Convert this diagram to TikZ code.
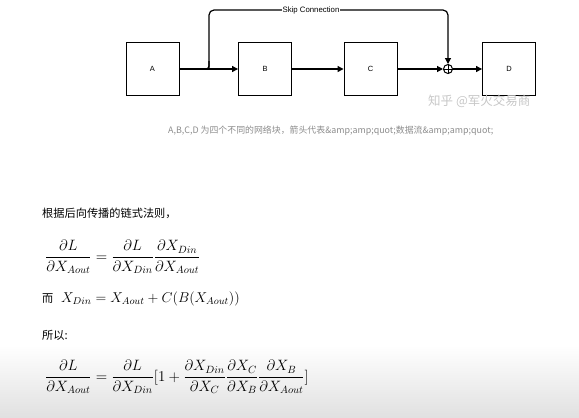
\RequirePackage{fix-cm}
\documentclass[tikz,border=0pt]{standalone}
\usepackage{amsmath}
\usepackage{fontspec}
\newfontfamily\cjk{Noto Sans CJK SC}
\newfontfamily\arial{Liberation Sans}
\usetikzlibrary{arrows.meta}
\begin{document}
\begin{tikzpicture}[x=1pt,y=-1pt,
  blk/.style={draw=black,line width=0.9pt,minimum width=53pt,minimum height=53pt,inner sep=0pt,font=\arial\fontsize{7.5}{8}\selectfont},
  flow/.style={line width=1.2pt,-{Triangle[length=6pt,width=6pt]}},
  txt/.style={anchor=west,inner sep=0pt},
  eq/.style={txt,font=\fontsize{15}{18}\selectfont}]
\useasboundingbox (0,0) rectangle (579,418);
\shade[top color=white,bottom color=black!12] (0,345) rectangle (579,418);
% blocks
\node[blk] (A) at (152.5,69) {A};
\node[blk] (B) at (265,69) {B};
\node[blk] (C) at (370.5,69) {C};
\node[blk] (D) at (509,69) {D};
\node[draw=black,line width=1pt,circle,minimum size=9pt,inner sep=0pt] (P) at (448,69) {};
\draw[line width=0.9pt] (P.north) -- (P.south) (P.west) -- (P.east);
\coordinate (s1) at (209,69);
\coordinate (s2) at (212,10);
\coordinate (s3) at (448,10);
% flows
\draw[flow] (A.east) -- (B.west);
\draw[flow] (B.east) -- (C.west);
\draw[flow] (C.east) -- (P.west);
\draw[flow] (P.east) -- (D.west);
\draw[flow,rounded corners=5pt] (s1) -- (s1 |- s2) -- (s3) -- (P.north);
\draw[line width=1.2pt,rounded corners=3pt] (A.east) -- (s1) -- ++(0,-8);
\node[fill=white,inner sep=0.5pt,font=\arial\fontsize{7.8}{8}\selectfont] (skip) at (311,10) {Skip Connection};
% watermark
\node[txt,text=black!22,font=\cjk\fontsize{12.5}{13}\selectfont] (wm) at (428,101) {知乎 @军火交易商};
% caption
\node[txt,text=black!45,font=\cjk\fontsize{8.9}{10}\selectfont] (cap) at (168,131) {A,B,C,D 为四个不同的网络块，箭头代表\&amp;amp;quot;数据流\&amp;amp;quot;};
% body text
\node[txt,font=\cjk\fontsize{11.2}{13}\selectfont] (t1) at (42,213) {根据后向传播的链式法则，};
\node[eq] (e1) at (45,257) {$\dfrac{\partial L}{\partial X_{Aout}} = \dfrac{\partial L}{\partial X_{Din}}\dfrac{\partial X_{Din}}{\partial X_{Aout}}$};
\node[txt,font=\cjk\fontsize{11.2}{13}\selectfont] (t3) at (42,299) {而};
\node[eq,font=\fontsize{14.2}{17}\selectfont] (e2) at (61,299) {$X_{Din} = X_{Aout} + C(B(X_{Aout}))$};
\node[txt,font=\cjk\fontsize{11.2}{13}\selectfont] (t2) at (42,335) {所以:};
\node[eq] (e3) at (45,377) {$\dfrac{\partial L}{\partial X_{Aout}} = \dfrac{\partial L}{\partial X_{Din}}[1+\dfrac{\partial X_{Din}}{\partial X_{C}}\dfrac{\partial X_{C}}{\partial X_{B}}\dfrac{\partial X_{B}}{\partial X_{Aout}}]$};
\end{tikzpicture}
\end{document}
